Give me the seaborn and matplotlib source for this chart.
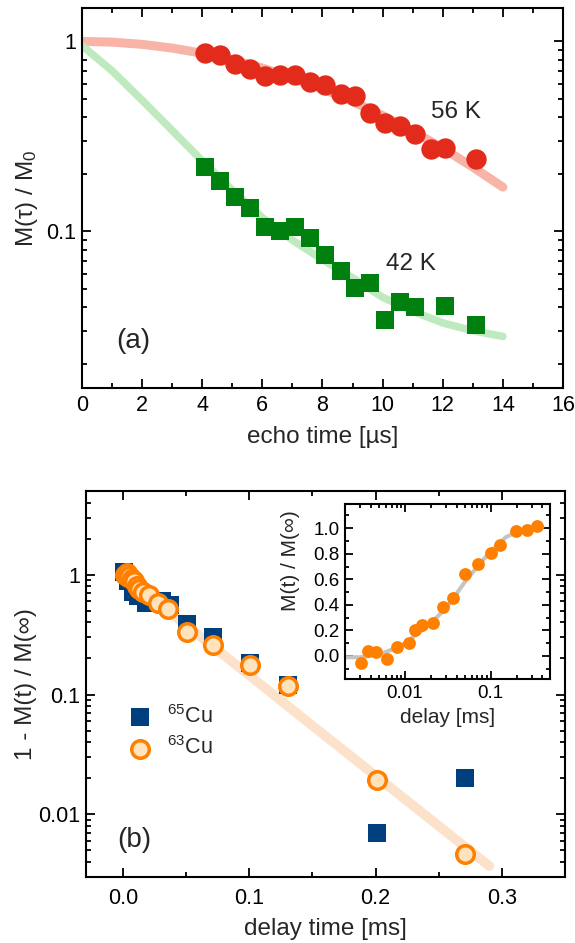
import matplotlib
matplotlib.use("Agg")
import numpy as np
import pandas as pd
import seaborn as sns
import matplotlib.pyplot as plt
from matplotlib import ticker

# ---- panel (a): spin echo decay ----
t56 = [4.10, 4.59, 5.08, 5.60, 6.08, 6.58, 7.08, 7.58, 8.09, 8.60, 9.09, 9.58,
       10.07, 10.58, 11.07, 11.60, 12.09, 13.10]
m56 = [0.868, 0.850, 0.762, 0.717, 0.659, 0.662, 0.667, 0.610, 0.590, 0.529, 0.519, 0.418,
       0.370, 0.359, 0.324, 0.273, 0.275, 0.239]
t42 = [4.10, 4.59, 5.08, 5.60, 6.08, 6.58, 7.08, 7.58, 8.09, 8.60, 9.09, 9.58,
       10.07, 10.58, 11.07, 12.09, 13.10]
m42 = [0.217, 0.184, 0.152, 0.133, 0.105, 0.100, 0.105, 0.092, 0.0747, 0.0617, 0.0504, 0.0533,
       0.0341, 0.0424, 0.0398, 0.0403, 0.0323]
fit_t = [0, 1, 2, 3, 4, 5, 6, 7, 8, 9, 10, 11, 12, 13, 14]
fit56 = [1.0, 0.991, 0.965, 0.922, 0.866, 0.80, 0.724, 0.643, 0.563, 0.483, 0.407, 0.337,
         0.274, 0.218, 0.171]
fit42 = [0.95, 0.70, 0.49, 0.34, 0.235, 0.165, 0.118, 0.090, 0.071, 0.057, 0.045, 0.038,
         0.033, 0.030, 0.028]

# ---- panel (b): recovery ----
d63 = [0.002, 0.003, 0.004, 0.005, 0.007, 0.009, 0.011, 0.013, 0.016, 0.021, 0.028, 0.036,
       0.051, 0.071, 0.101, 0.131, 0.201, 0.271]
r63 = [1.00, 1.03, 0.95, 0.97, 0.92, 0.88, 0.80, 0.76, 0.72, 0.68, 0.58, 0.52,
       0.33, 0.26, 0.178, 0.119, 0.0195, 0.0047]
d65 = [0.001, 0.004, 0.008, 0.012, 0.018, 0.031, 0.037, 0.051, 0.071, 0.101, 0.131, 0.201, 0.271]
r65 = [1.05, 0.88, 0.72, 0.66, 0.58, 0.60, 0.56, 0.39, 0.30, 0.185, 0.12, 0.0070, 0.020]
fit_d = [0.0, 0.05, 0.10, 0.15, 0.20, 0.25, 0.29]
fit_r = [1.0, 0.38, 0.145, 0.055, 0.021, 0.008, 0.0037]

# ---- inset ----
din = [0.00304, 0.0037, 0.00458, 0.00614, 0.00807, 0.011, 0.01315, 0.016, 0.0214, 0.0281,
       0.0366, 0.0505, 0.0703, 0.100, 0.1265, 0.198, 0.266, 0.345]
min_ = [-0.052, 0.042, 0.034, -0.026, 0.068, 0.104, 0.204, 0.243, 0.261, 0.386,
        0.452, 0.642, 0.718, 0.804, 0.869, 0.979, 0.987, 1.018]
fit_in_d = [0.002, 0.003, 0.005, 0.007, 0.01, 0.015, 0.02, 0.03, 0.05, 0.07, 0.1, 0.15,
            0.2, 0.3, 0.4]
fit_in_m = [-0.01, -0.01, 0.01, 0.05, 0.10, 0.19, 0.26, 0.37, 0.58, 0.70, 0.82, 0.93,
            0.97, 1.0, 1.01]

sns.set_theme(style="ticks")
plt.rcParams["font.family"] = ["Liberation Sans", "DejaVu Sans"]
plt.rcParams["mathtext.fontset"] = "custom"
plt.rcParams["mathtext.rm"] = "Liberation Sans"
plt.rcParams["mathtext.it"] = "Liberation Sans:italic"
plt.rcParams["axes.linewidth"] = 1.5

fig = plt.figure(figsize=(5.75, 9.43), dpi=100)
ax1 = fig.add_axes([0.1426, 0.5886, 0.8365, 0.403])
ax2 = fig.add_axes([0.1496, 0.07, 0.833, 0.4093])
ax3 = fig.add_axes([0.60, 0.28, 0.3565, 0.1856])

gfmt = ticker.FuncFormatter(lambda v, _: f"{v:g}")


def style(ax, lab=15.5, xpad=5):
    ax.tick_params(which="both", direction="in", top=True, right=True,
                   width=1.3, labelsize=lab, colors="black")
    ax.tick_params(which="major", length=6.5, pad=4)
    ax.tick_params(which="minor", length=3.5)
    ax.tick_params(axis="x", which="major", pad=xpad)
    for s in ax.spines.values():
        s.set_color("black")


# panel (a)
sns.lineplot(x=fit_t, y=fit56, ax=ax1, color="#F9B4A8", linewidth=6.5,
             sort=False, estimator=None, solid_capstyle="round")
sns.lineplot(x=fit_t, y=fit42, ax=ax1, color="#BFEABF", linewidth=5.5,
             sort=False, estimator=None, solid_capstyle="round")
sns.scatterplot(x=t56, y=m56, ax=ax1, marker="o", s=215, color="#E32B1B",
                linewidth=0, zorder=3)
sns.scatterplot(x=t42, y=m42, ax=ax1, marker="s", s=150, color="#00800F",
                linewidth=0, zorder=3)
ax1.set_yscale("log")
ax1.set_xlim(0, 16)
ax1.set_ylim(0.015, 1.5)
ax1.xaxis.set_major_locator(ticker.MultipleLocator(2))
ax1.xaxis.set_minor_locator(ticker.MultipleLocator(1))
ax1.yaxis.set_major_locator(ticker.LogLocator(base=10))
ax1.yaxis.set_minor_locator(ticker.LogLocator(base=10, subs=np.arange(2, 10)))
ax1.yaxis.set_major_formatter(gfmt)
ax1.yaxis.set_minor_formatter(ticker.NullFormatter())
style(ax1, xpad=5)
ax1.set_xlabel("echo time [µs]", fontsize=17.5)
ax1.set_ylabel("M(τ) / M$_0$", fontsize=17.5)
ax1.xaxis.set_label_coords(0.5, -0.10)
ax1.yaxis.set_label_coords(-0.088, 0.5)
ax1.text(0.778, 0.7097, "56 K", transform=ax1.transAxes, fontsize=17.5,
         ha="center", va="baseline")
ax1.text(0.683, 0.3105, "42 K", transform=ax1.transAxes, fontsize=17.5,
         ha="center", va="baseline")
ax1.text(0.1075, 0.105, "(a)", transform=ax1.transAxes, fontsize=20,
         ha="center", va="baseline")

# panel (b)
sns.lineplot(x=fit_d, y=fit_r, ax=ax2, color="#FDE2CB", linewidth=7,
             sort=False, estimator=None, solid_capstyle="round")
sns.scatterplot(x=d65, y=r65, ax=ax2, marker="s", s=160, color="#003F7E",
                linewidth=0, zorder=3, label="$^{65}$Cu")
sns.scatterplot(x=d63, y=r63, ax=ax2, marker="o", s=160, color="#FFE3BC",
                edgecolor="#FF7F00", linewidth=2.5, zorder=4, label="$^{63}$Cu")
ax2.set_yscale("log")
ax2.set_xlim(-0.0291, 0.3499)
ax2.set_ylim(0.003, 5)
ax2.xaxis.set_major_locator(ticker.MultipleLocator(0.1))
ax2.xaxis.set_minor_locator(ticker.MultipleLocator(0.05))
ax2.xaxis.set_major_formatter(ticker.FormatStrFormatter("%.1f"))
ax2.yaxis.set_major_locator(ticker.LogLocator(base=10))
ax2.yaxis.set_minor_locator(ticker.LogLocator(base=10, subs=np.arange(2, 10)))
ax2.yaxis.set_major_formatter(gfmt)
ax2.yaxis.set_minor_formatter(ticker.NullFormatter())
style(ax2, xpad=8)
ax2.set_xlabel("delay time [ms]", fontsize=17.5)
ax2.set_ylabel("1 - M(t) / M(∞)", fontsize=17.5)
ax2.xaxis.set_label_coords(0.5, -0.106)
ax2.yaxis.set_label_coords(-0.103, 0.5)
ax2.text(0.10, 0.0785, "(b)", transform=ax2.transAxes, fontsize=20,
         ha="center", va="baseline")
ax2.legend(loc="center left", bbox_to_anchor=(0.09, 0.3756), frameon=False,
           borderpad=0, borderaxespad=0, handlelength=1.0, handletextpad=0.75,
           fontsize=15.5, labelspacing=0.4)

# inset
sns.lineplot(x=fit_in_d, y=fit_in_m, ax=ax3, color="#C4C4C4", linewidth=2.9,
             sort=False, estimator=None)
sns.scatterplot(x=din, y=min_, ax=ax3, marker="o", s=85, color="#FF7F00",
                linewidth=0, zorder=3)
ax3.set_xscale("log")
ax3.set_xlim(0.002, 0.49)
ax3.set_ylim(-0.18, 1.19)
ax3.yaxis.set_major_locator(ticker.MultipleLocator(0.2))
ax3.yaxis.set_minor_locator(ticker.MultipleLocator(0.1))
ax3.yaxis.set_major_formatter(ticker.FormatStrFormatter("%.1f"))
ax3.xaxis.set_major_locator(ticker.LogLocator(base=10))
ax3.xaxis.set_minor_locator(ticker.LogLocator(base=10, subs=np.arange(2, 10)))
ax3.xaxis.set_major_formatter(gfmt)
ax3.xaxis.set_minor_formatter(ticker.NullFormatter())
style(ax3, lab=13.5, xpad=4)
ax3.tick_params(which="major", length=5.5)
ax3.tick_params(which="minor", length=3)
ax3.set_xlabel("delay [ms]", fontsize=15)
ax3.set_ylabel("M(t) / M(∞)", fontsize=15)
ax3.xaxis.set_label_coords(0.5, -0.166)
ax3.yaxis.set_label_coords(-0.22, 0.676)

fig.savefig("out.png", dpi=100)
